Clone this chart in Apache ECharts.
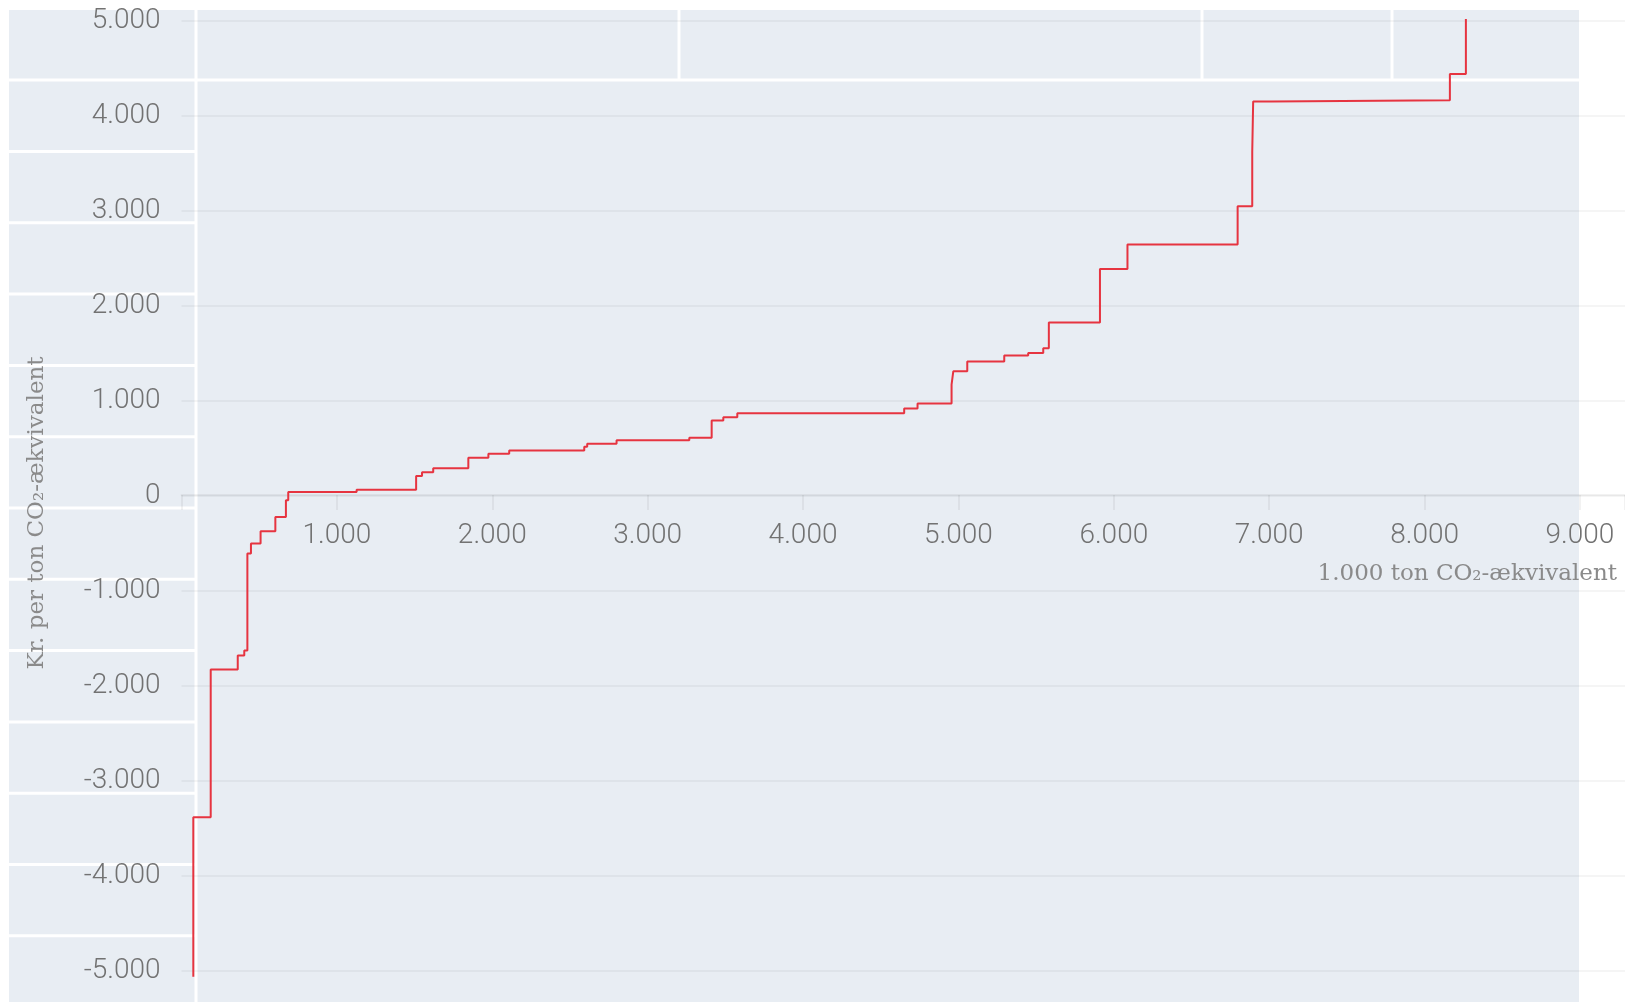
<!DOCTYPE html>
<html>
<head>
    <meta charset="utf-8">
    <title>Omkostningskurve</title>
    <script src="https://cdn.jsdelivr.net/npm/echarts@6/dist/echarts.min.js"></script>
    <style>
        html, body { margin: 0; padding: 0; background: #fff; }
        #main { width: 1625px; height: 1002px; }
    </style>
</head>
<body>
<div id="main"></div>

<script type="text/javascript">
    // kurvens start (nederste punkt) og top (sidste lodrette stykke)
    var startX = 76;
    var startY = -5060;
    var topY = 5020;
    // hvert tiltag: x hvor blokken slutter (1.000 ton, kumuleret) og pris (kr. per ton)
    var blockEnd = [188, 362, 404, 424, 447, 509, 604, 672, 687, 1127,
        1510, 1548, 1620, 1846, 1975, 2109, 2592, 2611, 2800, 3268,
        3412, 3487, 3577, 4651, 4737, 4956, 4967, 5057, 5295, 5449,
        5546, 5582, 5911, 6088, 6797, 6891, 6897, 7015, 8163, 8266];
    var cost = [-3382, -1826, -1679, -1626, -605, -500, -371, -220, -45, 42,
        65, 210, 250, 291, 402, 444, 479, 518, 549, 588,
        612, 794, 829, 870, 920, 973, 1172, 1312, 1417, 1480,
        1504, 1556, 1826, 2389, 2647, 3050, 3620, 4152, 4166, 4442];
    var yTicks = [-5000, 5000];
    var xTicks = [0, 9000];

    var pts = [[startX, startY]];
    for (var i = 0; i < blockEnd.length; i++) {
        pts.push([blockEnd[i], cost[i]]);
    }
    pts.push([blockEnd[blockEnd.length - 1], topY]);

    function fmt(v) {
        var s = String(Math.abs(v)).replace(/\B(?=(\d{3})+(?!\d))/g, '.');
        return (v < 0 ? '-' : '') + s;
    }

    // hvide streger i baggrunden (skærmbillede-kanter)
    var deco = [
        {type: 'rect', z: -100, shape: {x: 9, y: 10, width: 1570, height: 992}, style: {fill: '#e8edf3'}},
        {type: 'line', z: -90, shape: {x1: 196, y1: 10, x2: 196, y2: 1002}, style: {stroke: '#fff', lineWidth: 3}},
        {type: 'line', z: -90, shape: {x1: 9, y1: 80, x2: 1579, y2: 80}, style: {stroke: '#fff', lineWidth: 3}},
        {type: 'line', z: -90, shape: {x1: 679, y1: 10, x2: 679, y2: 80}, style: {stroke: '#fff', lineWidth: 3}},
        {type: 'line', z: -90, shape: {x1: 1202, y1: 10, x2: 1202, y2: 80}, style: {stroke: '#fff', lineWidth: 3}},
        {type: 'line', z: -90, shape: {x1: 1392, y1: 10, x2: 1392, y2: 80}, style: {stroke: '#fff', lineWidth: 3}}
    ];
    for (var k = 0; k < 12; k++) {
        var yy = 151.5 + k * 71.3;
        deco.push({type: 'line', z: -90, shape: {x1: 9, y1: yy, x2: 196, y2: yy}, style: {stroke: '#fff', lineWidth: 3}});
    }
    deco.push({
        type: 'text', x: 37, y: 513, rotation: Math.PI / 2,
        style: {
            text: 'Kr. per ton CO\u2082-ækvivalent', fill: '#8a8a8a',
            font: '23px "DejaVu Serif"', align: 'center', verticalAlign: 'middle',
            textAlign: 'center', textVerticalAlign: 'middle'
        }
    });
    deco.push({
        type: 'text', x: 1617, y: 574,
        style: {
            text: '1.000 ton CO\u2082-ækvivalent', fill: '#8a8a8a',
            font: '23px "DejaVu Serif"', align: 'right', verticalAlign: 'middle',
            textAlign: 'right', textVerticalAlign: 'middle'
        }
    });

    var myChart = echarts.init(document.getElementById('main'));
    myChart.setOption({
        animation: false,
        backgroundColor: '#fff',
        graphic: deco,
        grid: {left: 181.5, right: 0, top: 21, bottom: 31, containLabel: false, outerBoundsMode: 'none'},
        xAxis: {
            type: 'value',
            min: xTicks[0],
            max: 9290,
            interval: 1000,
            position: 'bottom',
            offset: -476,
            axisLine: {onZero: false, lineStyle: {color: 'rgba(0,0,0,0.05)', width: 2}},
            axisTick: {show: true, length: 15, lineStyle: {color: 'rgba(0,0,0,0.05)', width: 2}},
            splitLine: {show: false},
            axisLabel: {
                margin: 27, color: '#727272', fontFamily: 'Roboto', fontWeight: 300, fontSize: 28,
                formatter: function (v) { return (v > 0 && v <= xTicks[1] && v % 1000 === 0) ? fmt(v) : ''; }
            }
        },
        yAxis: {
            type: 'value',
            min: yTicks[0],
            max: yTicks[1],
            interval: 1000,
            axisLine: {show: false},
            axisTick: {show: false},
            splitLine: {lineStyle: {color: 'rgba(0,0,0,0.04)', width: 2}},
            axisLabel: {
                margin: 21, color: '#727272', fontFamily: 'Roboto', fontWeight: 300, fontSize: 28,
                formatter: fmt
            }
        },
        series: [{
            type: 'line',
            step: 'start',
            data: pts,
            showSymbol: false,
            clip: false,
            lineStyle: {color: '#e63440', width: 2}
        }]
    });
</script>
</body>
</html>
